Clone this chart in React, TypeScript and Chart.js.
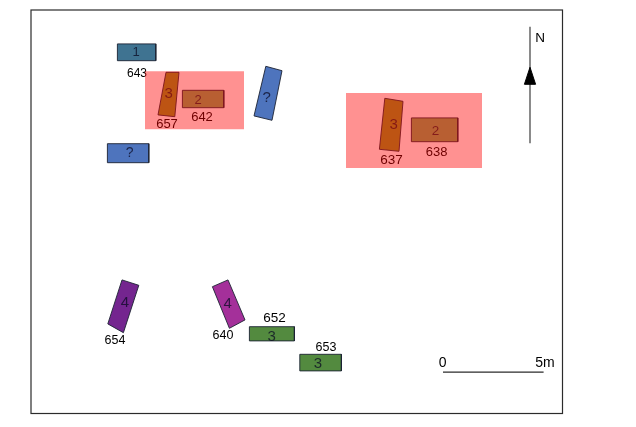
import { useEffect, useRef } from "react";
import { Chart, registerables } from "chart.js";

Chart.register(...registerables);

type Corner = [number, number];

// plan extent in metres (5m bar = 100px in the picture)
const planWidth = 26.575;
const planHeight = 20.175;

// house outlines, [east, north] in metres
const house643: Corner[] = [[4.32, 18.48], [6.24, 18.48], [6.24, 17.64], [4.32, 17.64]];
const house642: Corner[] = [[7.57, 16.16], [9.64, 16.16], [9.64, 15.29], [7.57, 15.29]];
const house657: Corner[] = [[6.75, 17.06], [7.4, 17.06], [7.19, 14.84], [6.35, 14.93]];
const houseTilted: Corner[] = [[11.74, 17.36], [12.55, 17.14], [12.05, 14.66], [11.15, 14.88]];
const houseUnknown: Corner[] = [[3.82, 13.49], [5.89, 13.49], [5.89, 12.54], [3.82, 12.54]];
const house637: Corner[] = [[17.69, 15.76], [18.6, 15.61], [18.4, 13.11], [17.42, 13.21]];
const house638: Corner[] = [[19.02, 14.78], [21.34, 14.78], [21.34, 13.59], [19.02, 13.59]];
const house654: Corner[] = [[4.55, 6.68], [5.39, 6.41], [4.62, 4.04], [3.84, 4.48]];
const house640: Corner[] = [[9.07, 6.34], [9.85, 6.68], [10.7, 4.68], [9.92, 4.26]];
const house652: Corner[] = [[10.92, 4.34], [13.17, 4.34], [13.17, 3.63], [10.92, 3.63]];
const house653: Corner[] = [[13.44, 2.96], [15.52, 2.96], [15.52, 2.13], [13.44, 2.13]];

const houses: Corner[][] = [
  house643, house642, house657, houseTilted, houseUnknown, house637,
  house638, house654, house640, house652, house653
];
const houseColors = [
  "#3f7391", "#83a758", "#8c9523", "#4e74bd", "#4e74bd", "#8c9523",
  "#83a758", "#74258f", "#a4309a", "#538a3f", "#538a3f"
];

// red zones sit over everything, houses and numbers show through
const redZoneWest: Corner[] = [[5.7, 17.11], [10.65, 17.11], [10.65, 14.21], [5.7, 14.21]];
const redZoneEast: Corner[] = [[15.75, 16.03], [22.55, 16.03], [22.55, 12.28], [15.75, 12.28]];

const northLine: Corner[] = [[24.95, 19.34], [24.95, 13.51]];
const northArrow: Corner[] = [[24.95, 17.31], [25.23, 16.46], [24.67, 16.46]];
const scaleBar: Corner[] = [[20.6, 2.07], [25.63, 2.07]];

const labelTexts = [
  "1", "643", "3", "657", "2", "642", "?", "?", "3", "637", "2", "638",
  "N", "4", "654", "4", "640", "652", "3", "653", "3", "0", "5m"
];
const labelEast = [
  5.25, 5.3, 6.88, 6.8, 8.35, 8.55, 11.78, 4.93, 18.13, 18.03, 20.23, 20.28,
  25.45, 4.7, 4.2, 9.83, 9.6, 12.18, 12.03, 14.75, 14.35, 20.58, 25.7
];
const labelNorth = [
  18.1, 17.05, 16.03, 14.5, 15.7, 14.83, 15.83, 13.08, 14.48, 12.73, 14.18, 13.1,
  18.83, 5.58, 3.7, 5.53, 3.95, 4.83, 3.9, 3.35, 2.53, 2.58, 2.58
];
const labelSizes = [
  13, 12, 15, 13, 13, 13, 15, 14, 15, 13.5, 13.5, 13,
  13.5, 15, 12.5, 15, 12.5, 13.5, 15, 12.5, 15, 14, 14
];
const insideHouse = [
  true, false, true, false, true, false, true, true, true, false, true, false,
  false, true, false, true, false, false, true, false, true, false, false
];

const toPoints = (corners: Corner[]) => corners.map(([x, y]) => ({ x, y }));

const polygon = (corners: Corner[], fillColor: string, stroke: string, width: number) => ({
  data: toPoints([...corners, corners[0]]),
  showLine: true,
  fill: "shape",
  backgroundColor: fillColor,
  borderColor: stroke,
  borderWidth: width,
  pointRadius: 0,
  tension: 0
});

const line = (corners: Corner[], width: number) => ({
  data: toPoints(corners),
  showLine: true,
  borderColor: "#2b2b2b",
  borderWidth: width,
  pointRadius: 0,
  tension: 0
});

// first dataset is drawn last, so the zones go first
const zoneDatasets = [redZoneWest, redZoneEast].map((z) =>
  polygon(z, "rgba(255,0,0,0.43)", "rgba(0,0,0,0)", 0)
);

const framePlugin = {
  id: "planFrame",
  afterDraw(chart: any) {
    const { left, top, width, height } = chart.chartArea;
    const { ctx } = chart;
    ctx.save();
    ctx.strokeStyle = "#2b2b2b";
    ctx.lineWidth = 1.2;
    ctx.strokeRect(left, top, width, height);
    ctx.restore();
  }
};

// numbers go in just before the zones are painted
const labelPlugin = {
  id: "planLabels",
  afterDatasetDraw(chart: any, args: any) {
    if (args.index !== zoneDatasets.length) return;
    const { ctx, scales } = chart;
    ctx.save();
    ctx.textAlign = "center";
    ctx.textBaseline = "middle";
    labelTexts.forEach((text, i) => {
      ctx.fillStyle = insideHouse[i] ? "rgba(10,10,35,0.75)" : "#000";
      ctx.font = `${labelSizes[i]}px "Liberation Sans"`;
      ctx.fillText(text, scales.x.getPixelForValue(labelEast[i]), scales.y.getPixelForValue(labelNorth[i]) + 1);
    });
    ctx.restore();
  }
};

const App = () => {
  const canvasRef = useRef<HTMLCanvasElement | null>(null);

  useEffect(() => {
    if (!canvasRef.current) return;

    const chart = new Chart(canvasRef.current, {
      type: "scatter",
      data: {
        datasets: [
          ...zoneDatasets,
          ...houses.map((h, i) => polygon(h, houseColors[i], "#1c2233", 0.9)),
          polygon(northArrow, "#000", "#000", 1),
          line(northLine, 1.1),
          line(scaleBar, 1.1)
        ] as any
      },
      options: {
        responsive: false,
        animation: false,
        devicePixelRatio: 1,
        layout: { padding: { left: 31, top: 10, right: 73.5, bottom: 13.5 } },
        scales: {
          x: { type: "linear", min: 0, max: planWidth, display: false },
          y: { type: "linear", min: 0, max: planHeight, display: false }
        },
        plugins: { legend: { display: false }, tooltip: { enabled: false } }
      },
      plugins: [framePlugin, labelPlugin]
    });

    return () => chart.destroy();
  }, []);

  return (
    <div style={{ position: "absolute", left: 0, top: 0, width: 636, height: 427, background: "#fff" }}>
      <canvas ref={canvasRef} width={636} height={427} style={{ display: "block" }} />
    </div>
  );
};

export default App;
